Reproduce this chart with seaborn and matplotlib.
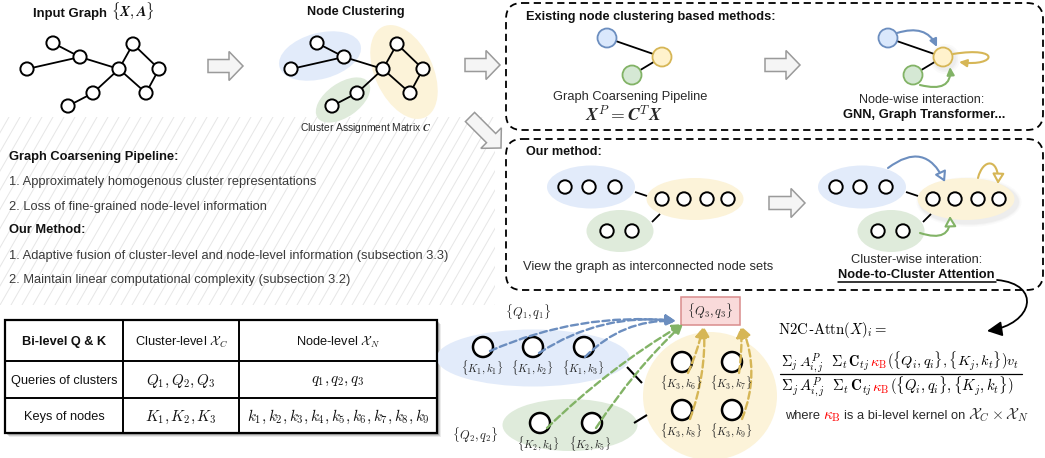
import numpy as np
import matplotlib
matplotlib.use("Agg")
import matplotlib.pyplot as plt
import seaborn as sns
from matplotlib.patches import Circle, Ellipse, FancyArrow, FancyArrowPatch, FancyBboxPatch, Rectangle
from matplotlib.path import Path
from matplotlib.mathtext import MathTextParser

sns.set_theme(style="white")
plt.rcParams["font.family"] = ["Liberation Sans", "DejaVu Sans"]
plt.rcParams["mathtext.fontset"] = "cm"

# bold italic if this matplotlib has it
try:
    MathTextParser("path").parse(r"$\mathbfit{X}$")
    BF = r"\mathbfit"
except Exception:
    BF = r"\mathbf"

BLUE_FILL, BLUE_EDGE = "#dae8fc", "#6c8ebf"
YEL_FILL, YEL_EDGE = "#fff2cc", "#d6b656"
GRN_FILL, GRN_EDGE = "#d5e8d4", "#82b366"
BLUE_SET, YEL_SET, GRN_SET = "#e2ebfa", "#fcf3d9", "#dfebdb"
TXT, TXT_B = "#2a2a2a", "#111111"

# input graph (px)
graph_x = [53, 80, 27, 119, 133, 159, 146, 93, 68]
graph_y = [43, 57, 69, 69, 44, 69, 93, 93, 106]
graph_edges = [(0, 1), (2, 1), (1, 3), (3, 4), (4, 5), (5, 6), (6, 3), (3, 7), (7, 8)]
cluster_shift = 264

# left text block
left_lines = [
    ("Graph Coarsening Pipeline:", "bold"),
    ("1. Approximately homogenous cluster representations", "normal"),
    ("2. Loss of fine-grained node-level information", "normal"),
    ("Our Method:", "bold"),
    ("1. Adaptive fusion of cluster-level and node-level information (subsection 3.3)", "normal"),
    ("2. Maintain linear computational complexity (subsection 3.2)", "normal"),
]
left_y = [157, 182, 207, 230, 256, 280]

# table
table_cols = [5, 123, 239, 437]
table_rows = [320, 361, 398, 433]
table_cells = [
    ["Bi-level Q & K", r"Cluster-level $\mathcal{X}_C$", r"Node-level $\mathcal{X}_N$"],
    ["Queries of clusters", r"$Q_1,Q_2,Q_3$", r"$q_1,q_2,q_3$"],
    ["Keys of nodes", r"$K_1,K_2,K_3$", r"$k_1,k_2,k_3,k_4,k_5,k_6,k_7,k_8,k_9$"],
]
table_text_y = [342, 381, 417]

# existing methods: cluster nodes (blue, yellow, green)
coarse_x = [607, 662, 632]
coarse_y = [38, 57, 75]
coarse_shift = 281

# our method: node sets
set_centers = [(591, 187), (695, 199), (620, 231)]
set_sizes = [(88, 43), (97, 42), (67, 42)]
set_nodes_x = [[565, 589, 615], [662, 684, 707, 728], [607, 632]]
set_nodes_y = [187, 199, 231]
set_shift = 271

# bi-level view
bl_blue_x, bl_blue_y = [483, 533, 584], 347
bl_green_x, bl_green_y = [540, 592], 423
bl_yel_x, bl_yel_y = [682, 732], [362, 410]
bl_blue_lab = [r"$\{K_1,k_1\}$", r"$\{K_1,k_2\}$", r"$\{K_1,k_3\}$"]
bl_green_lab = [r"$\{K_2,k_4\}$", r"$\{K_2,k_5\}$"]
bl_yel_lab = [[r"$\{K_3,k_6\}$", r"$\{K_3,k_7\}$"], [r"$\{K_3,k_8\}$", r"$\{K_3,k_9\}$"]]

fig = plt.figure(figsize=(10.45, 4.58), dpi=100)
ax = fig.add_axes([0, 0, 1, 1])
ax.set_xlim(0, 1045)
ax.set_ylim(458, 0)
ax.axis("off")
R = fig.canvas.get_renderer()


def node(x, y, r, fc="white", ec="black", lw=1.4, z=5):
    ax.add_patch(Circle((x, y), r, fc=fc, ec=ec, lw=lw, zorder=z))


def edge(p, q, lw=1.3):
    ax.plot([p[0], q[0]], [p[1], q[1]], color="black", lw=lw, zorder=3, solid_capstyle="butt")


def block_arrow(x, y, dx, dy):
    ax.add_patch(FancyArrow(x, y, dx, dy, width=13, head_width=29, head_length=14,
                            length_includes_head=True, fc="#f5f5f5", ec="#9a9a9a", lw=1.1, zorder=4))


def curve(pts, color, lw=1.5, head="-|>,head_length=0.45,head_width=0.22", fc=None):
    codes = [Path.MOVETO] + [Path.CURVE3 if len(pts) == 3 else Path.CURVE4] * (len(pts) - 1)
    ax.add_patch(FancyArrowPatch(path=Path(pts, codes), arrowstyle=head, mutation_scale=10,
                                 ec=color, fc=fc if fc else color, lw=lw, zorder=6))


def text(x, y, s, width, ha="center", **kw):
    # size the text so that it spans the given width in px
    t = ax.text(x, y, s, fontsize=10, ha=ha, va="center", zorder=7, **kw)
    t.set_fontsize(10 * width / t.get_window_extent(R).width)
    return t


def pieces(x, y, parts, width, ha="left"):
    # parts: (string, colour, gap before, relative size, weight)
    def lay(size):
        arts, cx = [], x
        for s, c, gap, rel, w in parts:
            cx += gap
            t = ax.text(cx, y, s, fontsize=size * rel, color=c, fontweight=w,
                        ha="left", va="baseline", zorder=7)
            cx += t.get_window_extent(R).width
            arts.append(t)
        return arts, cx - x
    arts, total = lay(10)
    for t in arts:
        t.remove()
    arts, total = lay(10 * width / total)
    if ha == "center":
        for t in arts:
            t.set_x(t.get_position()[0] - total / 2)


# hatched background of the text block
hatch_box = Rectangle((0, 117), 495, 188, fc="none", ec="none")
ax.add_patch(hatch_box)
for x0 in np.arange(-110, 500, 11):
    ln, = ax.plot([x0, x0 + 108], [305, 117], color="#e6e6e6", lw=0.7, zorder=0)
    ln.set_clip_path(hatch_box)

# input graph and clustered graph
for shift in [0, cluster_shift]:
    for a, b in graph_edges:
        edge((graph_x[a] + shift, graph_y[a]), (graph_x[b] + shift, graph_y[b]))
    for gx, gy in zip(graph_x, graph_y):
        node(gx + shift, gy, 6.6)
ax.add_patch(Ellipse((320, 56), 84, 46, angle=-15, fc=BLUE_SET, ec="none", zorder=1))
ax.add_patch(Ellipse((404, 72), 100, 58, angle=65, fc=YEL_SET, ec="none", zorder=1))
ax.add_patch(Ellipse((343, 100), 62, 34, angle=-35, fc=GRN_SET, ec="none", zorder=1))

pieces(94, 17, [("Input Graph", TXT_B, 0, 1, "bold"),
                (r"$\{" + BF + "{X}," + BF + "{A}\}$", TXT_B, 4, 1.12, "normal")], 122, ha="center")
text(356, 12, "Node Clustering", 98, fontweight="bold", color=TXT_B)
text(366, 128, r"Cluster Assignment Matrix $" + BF + "{C}$", 131, color=TXT)

block_arrow(208, 66, 35, 0)
block_arrow(465, 65, 35, 0)
block_arrow(470, 117, 31, 31)

long_line = text(9, left_y[4], left_lines[4][0], 439, ha="left", color="#3a3a3a")
for (s, w), y in zip(left_lines, left_y):
    if s != left_lines[4][0]:
        ax.text(9, y, s, fontsize=long_line.get_fontsize(), fontweight=w, ha="left", va="center",
                color=TXT_B if w == "bold" else "#3a3a3a")

# dashed boxes
for y0, y1 in [(3, 130), (139, 290)]:
    ax.add_patch(FancyBboxPatch((506, y0), 537, y1 - y0, boxstyle="round,pad=0,rounding_size=16",
                                fc="none", ec="black", lw=1.3, ls=(0, (4, 2.5)), zorder=2))

# existing methods
text(526, 17, "Existing node clustering based methods:", 251, ha="left", fontweight="bold", color=TXT_B)
fills = [(BLUE_FILL, BLUE_EDGE), (YEL_FILL, YEL_EDGE), (GRN_FILL, GRN_EDGE)]
for shift in [0, coarse_shift]:
    edge((coarse_x[0] + shift, coarse_y[0]), (coarse_x[1] + shift, coarse_y[1]))
    edge((coarse_x[2] + shift, coarse_y[2]), (coarse_x[1] + shift, coarse_y[1]))
    for cx, cy, (fc, ec) in zip(coarse_x, coarse_y, fills):
        node(cx + shift, cy, 9.5, fc=fc, ec=ec, lw=1.3)
# soft glow around the attended node
for k, a in [(15, 0.04), (13, 0.05), (11.5, 0.06)]:
    ax.add_patch(Circle((coarse_x[1] + coarse_shift + 2, coarse_y[1] + 2), k, fc="#888888", ec="none",
                        alpha=a, zorder=4))
text(630, 97, "Graph Coarsening Pipeline", 155, color=TXT)
text(624, 115, r"$" + BF + "{X}^P=" + BF + "{C}^T" + BF + "{X}$", 78)
block_arrow(765, 65, 35, 0)
curve([(897, 33), (926, 24), (937, 47)], BLUE_EDGE)
curve([(953, 54), (1002, 46), (996, 67), (959, 62)], YEL_EDGE)
curve([(920, 85), (952, 93), (950, 67)], GRN_EDGE)
text(922, 100, "Node-wise interaction:", 125, color=TXT)
text(924, 115, "GNN, Graph Transformer...", 163, fontweight="bold", color=TXT_B)

# our method
text(526, 152, "Our method:", 76, ha="left", fontweight="bold", color=TXT_B)
for shift in [0, set_shift]:
    if shift:
        for k, a in [(8, 0.03), (5, 0.04), (3, 0.05)]:
            ax.add_patch(Ellipse((set_centers[1][0] + shift + 3, set_centers[1][1] + 3), set_sizes[1][0] + k,
                                 set_sizes[1][1] + k, fc="#777777", ec="none", alpha=a, zorder=1))
    for (cx, cy), (w, h), col in zip(set_centers, set_sizes, [BLUE_SET, YEL_SET, GRN_SET]):
        ax.add_patch(Ellipse((cx + shift, cy), w, h, fc=col, ec="none", zorder=1))
    for xs, y in zip(set_nodes_x, set_nodes_y):
        for x in xs:
            node(x + shift, y, 6.7)
    edge((635 + shift, 192), (647 + shift, 196))
    edge((652 + shift, 222), (660 + shift, 214))
text(523, 267, "View the graph as interconnected node sets", 251, ha="left", color=TXT)
block_arrow(769, 203, 36, 0)
open_head = "-|>,head_length=0.6,head_width=0.35"
curve([(888, 168), (925, 140), (945, 182)], BLUE_EDGE, head=open_head, fc="white")
curve([(978, 178), (983, 158), (999, 158), (998, 184)], YEL_EDGE, head=open_head, fc="white")
curve([(920, 233), (951, 243), (950, 216)], GRN_EDGE, head=open_head, fc="white")
text(917, 260, "Cluster-wise interation:", 132, color=TXT)
text(916, 275, "Node-to-Cluster Attention", 157, fontweight="bold", color=TXT_B)
ax.plot([838, 996], [282, 282], color="black", lw=1.1)
curve([(997, 280), (1042, 284), (1034, 324), (987, 331)], "black", lw=1.3,
      head="-|>,head_length=0.9,head_width=0.45")

# table with shadow
for k, a in [(4, 0.08), (3, 0.12), (2, 0.18)]:
    ax.add_patch(Rectangle((table_cols[0] + k, table_rows[0] + k), table_cols[-1] - table_cols[0],
                           table_rows[-1] - table_rows[0], fc="black", ec="none", alpha=a, zorder=1))
ax.add_patch(Rectangle((table_cols[0], table_rows[0]), table_cols[-1] - table_cols[0],
                       table_rows[-1] - table_rows[0], fc="white", ec="black", lw=1.6, zorder=2))
for x in table_cols[1:-1]:
    ax.plot([x, x], [table_rows[0], table_rows[-1]], color="black", lw=1.4, zorder=3)
for y in table_rows[1:-1]:
    ax.plot([table_cols[0], table_cols[-1]], [y, y], color="black", lw=1.4, zorder=3)
ref = text(-500, 0, "Queries of clusters", 107)
sans_size = ref.get_fontsize()
ref.remove()
ref = text(-500, 0, table_cells[2][2], 183)
math_size = ref.get_fontsize()
ref.remove()
for i, row in enumerate(table_cells):
    for j, s in enumerate(row):
        cx = (table_cols[j] + table_cols[j + 1]) / 2
        w = "bold" if (i == 0 and j == 0) else "normal"
        size = math_size if s.startswith("$") else sans_size
        ax.text(cx, table_text_y[i], s, fontsize=size, fontweight=w, ha="center", va="center",
                color=TXT_B, zorder=4)

# bi-level view
ax.add_patch(Ellipse((533, 358), 193, 57, fc=BLUE_SET, ec="none", zorder=1))
ax.add_patch(Ellipse((570, 425), 135, 52, fc=GRN_SET, ec="none", zorder=1))
ax.add_patch(Ellipse((710, 396), 134, 128, fc=YEL_SET, ec="none", zorder=1))
edge((627, 367), (642, 383), lw=1.5)
edge((634, 423), (647, 415), lw=1.5)
for x, lab in zip(bl_blue_x, bl_blue_lab):
    node(x, bl_blue_y, 10, lw=1.8)
    text(x - 1, bl_blue_y + 21, lab, 42)
for x, lab in zip(bl_green_x, bl_green_lab):
    node(x, bl_green_y, 10, lw=1.8)
    text(x - 2, bl_green_y + 21, lab, 42)
for y, labs in zip(bl_yel_y, bl_yel_lab):
    for x, lab in zip(bl_yel_x, labs):
        node(x, y, 10, lw=1.8)
        text(x - 1, y + 21, lab, 42)
text(528, 312, r"$\{Q_1,q_1\}$", 46)
text(475, 435, r"$\{Q_2,q_2\}$", 46)
ax.add_patch(Rectangle((681, 297), 59, 28, fc="#f9dada", ec="#d98c8c", lw=1.1, zorder=2))
text(710, 311, r"$\{Q_3,q_3\}$", 46)

dash_starts = [((490, 351), -0.13, BLUE_EDGE, (676, 321)), ((539, 353), -0.18, BLUE_EDGE, (676, 321)),
               ((585, 357), -0.22, BLUE_EDGE, (676, 321)),
               ((547, 428), -0.06, GRN_EDGE, (683, 324)), ((596, 428), -0.06, GRN_EDGE, (683, 324)),
               ((688, 373), 0.05, YEL_EDGE, (703, 327)), ((690, 419), 0.1, YEL_EDGE, (704, 327)),
               ((739, 373), 0.05, YEL_EDGE, (741, 327)), ((742, 419), 0.2, YEL_EDGE, (742, 327))]
for p, rad, col, q in dash_starts:
    ax.annotate("", xy=q, xytext=p, zorder=6,
                arrowprops=dict(arrowstyle="-|>,head_length=0.5,head_width=0.25", color=col, lw=1.7,
                                ls=(0, (3, 1.5)), shrinkA=0, shrinkB=0,
                                connectionstyle="arc3,rad=%s" % rad))

# formula
red = "#ff0000"
pieces(778, 334, [(r"$\mathrm{N2C}$", "black", 0, 1, "normal"), ("-", "black", 0, 1, "normal"),
                  (r"$\mathrm{Attn}(X)_i=$", "black", 0, 1, "normal")], 110)
head_part = r"$\Sigma_j\, A^P_{i,j}\ \ \Sigma_t\, \mathbf{C}_{tj}$"
num = [(head_part, "black", 0, 1, "normal"),
       (r"$\kappa_\mathrm{B}$", red, 0.5, 1, "normal"),
       (r"$(\{Q_i,q_i\},\{K_j,k_t\})v_t$", "black", 0.5, 1, "normal")]
den = [(head_part, "black", 0, 1, "normal"),
       (r"$\kappa_\mathrm{B}$", red, 0.5, 1, "normal"),
       (r"$(\{Q_i,q_i\},\{K_j,k_t\})$", "black", 0.5, 1, "normal")]
pieces(900, 367, num, 239, ha="center")
pieces(897, 391, den, 233, ha="center")
ax.plot([780, 1022], [374, 374], color="black", lw=0.9)
where = [("where", TXT, 0, 1, "normal"), (r"$\kappa_\mathrm{B}$", red, 3, 1.2, "normal"),
         ("is a bi-level kernel on", TXT, 3, 1, "normal"),
         (r"$\mathcal{X}_C\times\mathcal{X}_N$", TXT, 3, 1.2, "normal")]
pieces(785, 419, where, 243)

fig.savefig("out.png", dpi=100)
